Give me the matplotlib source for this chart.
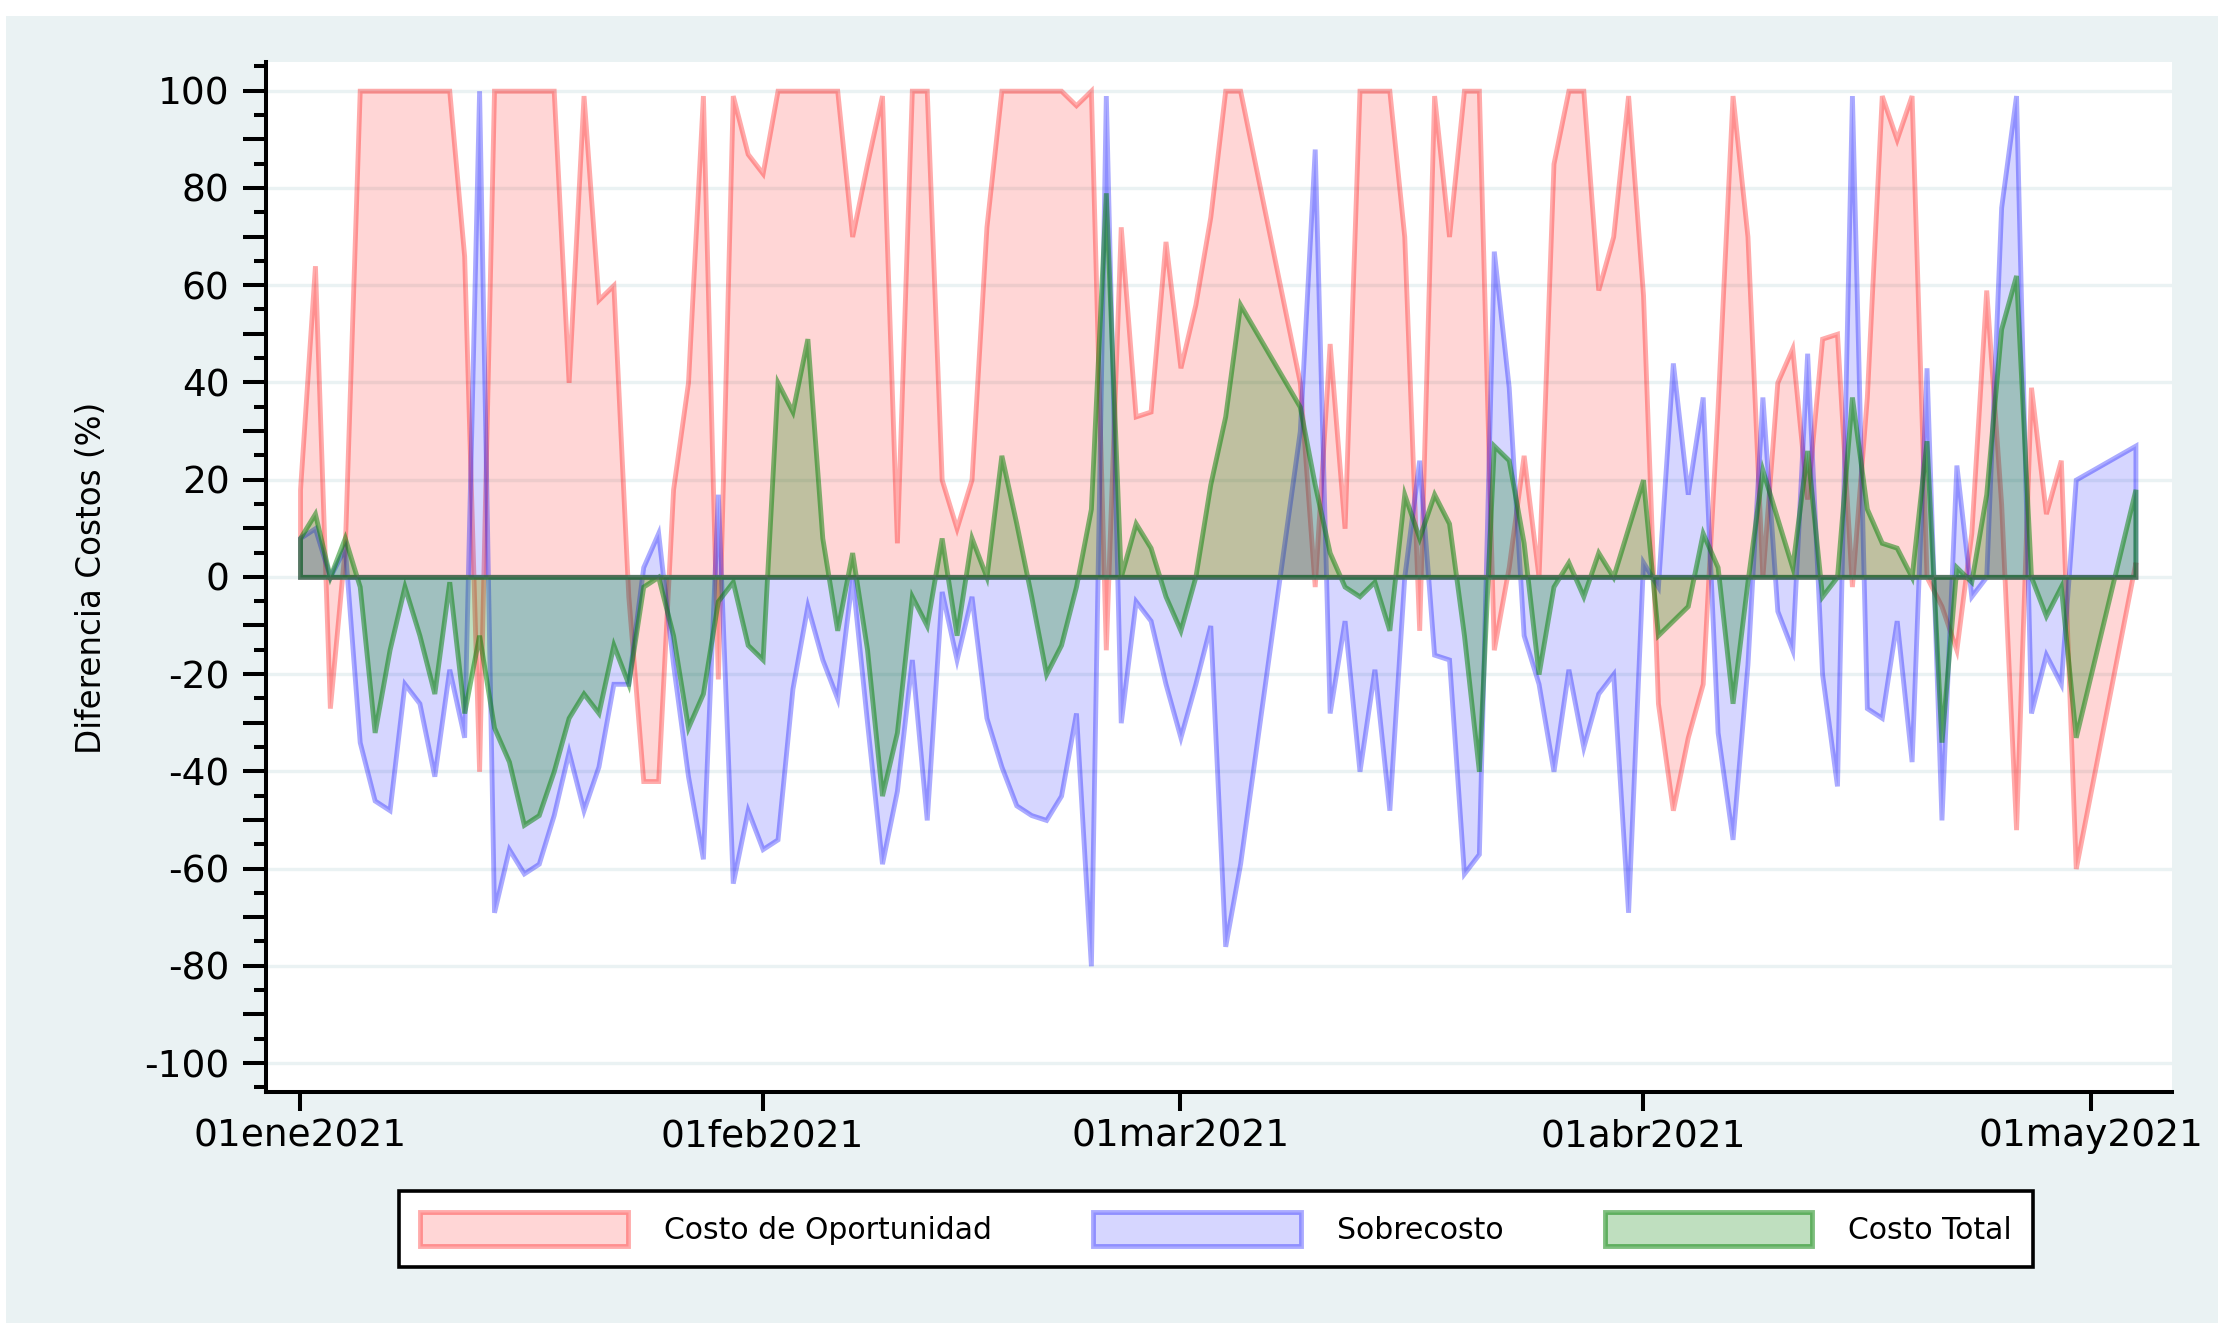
import matplotlib
matplotlib.use('Agg')
import matplotlib.pyplot as plt
from matplotlib.patches import Patch, Rectangle
from matplotlib.ticker import MultipleLocator
import pandas as pd

plt.rcParams['font.family'] = ['DejaVu Sans']

# fechas con datos (no hay 06-08 mar ni 01-03 may)
fechas = pd.date_range('2021-01-01', '2021-05-04')
faltan = pd.to_datetime(['2021-03-06', '2021-03-07', '2021-03-08',
                         '2021-05-01', '2021-05-02', '2021-05-03'])
fechas = fechas.drop(faltan)

costo_oportunidad = [
    18, 64, -27, 6, 100, 100, 100, 100, 100, 100,
    100, 66, -40, 100, 100, 100, 100, 100, 40, 99,
    57, 60, -4, -42, -42, 18, 40, 99, -21, 99,
    87, 83, 100, 100, 100, 100, 100, 70, 85, 99,
    7, 100, 100, 20, 10, 20, 72, 100, 100, 100,
    100, 100, 97, 100, -15, 72, 33, 34, 69, 43,
    56, 74, 100, 100,
    40, -2, 48,
    10, 100, 100, 100, 70, -11, 99, 70, 100, 100,
    -15, 2, 25, 0, 85, 100, 100, 59, 70, 99,
    58, -26, -48, -33, -22, 35, 99, 70, 0, 40,
    47, 16, 49, 50, -2, 37, 99, 90, 99, 0,
    -6, -15, 9, 59, 15, -52, 39, 13, 24, -60,
    3]

sobrecosto = [
    8, 10, 0, 6, -34, -46, -48, -22, -26, -41,
    -19, -33, 100, -69, -56, -61, -59, -49, -36, -48,
    -39, -22, -22, 2, 9, -18, -41, -58, 17, -63,
    -48, -56, -54, -23, -6, -17, -25, 0, -30, -59,
    -44, -17, -50, -3, -17, -4, -29, -39, -47, -49,
    -50, -45, -28, -80, 99, -30, -5, -9, -22, -33,
    -22, -10, -76, -59,
    30, 88, -28,
    -9, -40, -19, -48, 0, 24, -16, -17, -61, -57,
    67, 39, -12, -22, -40, -19, -35, -24, -20, -69,
    3, -2, 44, 17, 37, -32, -54, -18, 37, -7,
    -15, 46, -20, -43, 99, -27, -29, -9, -38, 43,
    -50, 23, -4, 0, 76, 99, -28, -16, -22, 20,
    27]

costo_total = [
    8, 13, 0, 8, -2, -32, -15, -2, -12, -24,
    -1, -28, -12, -31, -38, -51, -49, -40, -29, -24,
    -28, -14, -22, -2, 0, -12, -31, -24, -5, -1,
    -14, -17, 40, 34, 49, 8, -11, 5, -15, -45,
    -32, -4, -10, 8, -12, 8, 0, 25, 11, -4,
    -20, -14, -2, 14, 79, 0, 11, 6, -4, -11,
    0, 19, 33, 56,
    35, 19, 5,
    -2, -4, -1, -11, 17, 8, 17, 11, -12, -40,
    27, 24, 7, -20, -2, 3, -4, 5, 0, 10,
    20, -12, -9, -6, 9, 2, -26, -1, 22, 12,
    2, 26, -4, 0, 37, 14, 7, 6, 0, 28,
    -34, 2, -1, 17, 51, 62, 0, -8, -2, -33,
    18]

series = ['Costo de Oportunidad', 'Sobrecosto', 'Costo Total']
xtick_fechas = pd.to_datetime(['2021-01-01', '2021-02-01', '2021-03-01',
                               '2021-04-01', '2021-05-01'])
xtick_labels = ['01ene2021', '01feb2021', '01mar2021', '01abr2021', '01may2021']
ytick_vals = list(range(-100, 101, 20))

# relleno y borde (rgba) de cada serie
estilos = [((1, 0, 0, 0.16), (1, 0, 0, 0.33)),
           ((0, 0, 1, 0.16), (0, 0, 1, 0.33)),
           ((0, 0.5, 0, 0.25), (0, 0.5, 0, 0.5))]

bg = '#EAF2F3'
W, H = 2218, 1323
fig = plt.figure(figsize=(W / 100, H / 100), dpi=100, facecolor=bg)
fig.add_artist(Rectangle((0, 1 - 15.7 / H), 1, 15.7 / H, transform=fig.transFigure,
                         facecolor='white', edgecolor='none'))
fig.add_artist(Rectangle((0, 0), 6 / W, 1, transform=fig.transFigure,
                         facecolor='white', edgecolor='none'))

ax = fig.add_axes([265.7 / W, 1 - 1091.7 / H, 1906 / W, 1029.7 / H])
ax.set_facecolor('white')

for v in ytick_vals:
    ax.axhline(v, color=bg, lw=2.4, zorder=0.5)

lw = 3.5
for datos, (fc, ec) in zip([costo_oportunidad, sobrecosto, costo_total], estilos):
    pc = ax.fill_between(fechas, datos, 0, facecolor=fc, edgecolor=ec, linewidth=lw, zorder=2)
    pc.set_joinstyle('miter')

t0 = pd.Timestamp('2021-01-01')
ax.set_xlim(t0 - pd.Timedelta(days=2.3), t0 + pd.Timedelta(days=125.43))
ax.set_ylim(-105.9, 105.9)

ax.set_xticks(xtick_fechas)
ax.set_xticklabels(xtick_labels)
ax.yaxis.set_major_locator(MultipleLocator(10))
ax.yaxis.set_minor_locator(MultipleLocator(5))
ax.set_yticks(list(range(-100, 101, 10)))
ax.set_yticklabels([str(v) if v % 20 == 0 else '' for v in range(-100, 101, 10)])

ax.tick_params(axis='y', which='major', length=16.6, width=2.9, direction='out',
               labelsize=27, pad=9.4)
ax.tick_params(axis='y', which='minor', length=8.4, width=2.9, direction='out')
ax.tick_params(axis='x', which='major', length=13.7, width=2.9, direction='out',
               labelsize=27, pad=5.5)
ax.tick_params(axis='x', which='minor', length=0)

for s in ['top', 'right']:
    ax.spines[s].set_visible(False)
for s in ['left', 'bottom']:
    ax.spines[s].set_linewidth(2.9)
    ax.spines[s].set_color('black')

fig.text(92 / W, 1 - 578 / H, 'Diferencia Costos (%)', rotation=90,
         ha='center', va='center', fontsize=23.5)

handles = [Patch(facecolor=fc, edgecolor=ec, linewidth=lw) for fc, ec in estilos]
leg = fig.legend(handles, series, loc='center', bbox_to_anchor=(1216 / W, 1 - 1229 / H),
                 bbox_transform=fig.transFigure, ncol=3, fontsize=21.5,
                 handlelength=6.95, handleheight=1.37, handletextpad=1.2,
                 columnspacing=3.4, borderpad=0.72, frameon=True, fancybox=False,
                 edgecolor='black', facecolor='white', framealpha=1)
leg.get_frame().set_linewidth(2.6)

fig.savefig('out.png', dpi=100, facecolor=fig.get_facecolor())
